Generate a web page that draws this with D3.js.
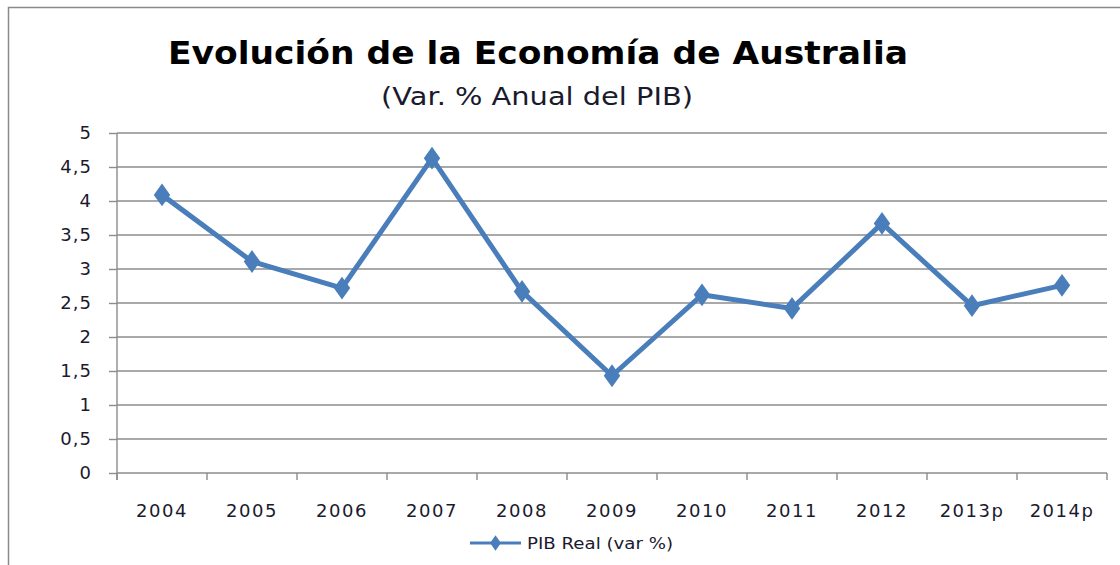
<!DOCTYPE html>
<html>
<head>
<meta charset="utf-8">
<script src="https://cdn.jsdelivr.net/npm/d3@7"></script>
<style>
  body { margin: 0; background: #fff; }
  svg { display: block; }
  text { font-family: "DejaVu Sans", sans-serif; fill: #1a1a2e; }
</style>
</head>
<body>
<div id="chart"></div>
<script>
// data
var years = ["2004", "2005", "2006", "2007", "2008", "2009", "2010", "2011", "2012", "2013p", "2014p"];
var pibReal = [4.09, 3.11, 2.72, 4.63, 2.67, 1.43, 2.62, 2.42, 3.67, 2.46, 2.76];
var yTicks = [0, 0.5, 1, 1.5, 2, 2.5, 3, 3.5, 4, 4.5, 5];
var seriesName = "PIB Real (var %)";
var titleText = "Evolución de la Economía de Australia";
var subtitleText = "(Var. % Anual del PIB)";

var w = 1120, h = 565;
var margin = {left: 117, top: 133, right: 13, bottom: 92};
var pw = w - margin.left - margin.right;
var ph = h - margin.top - margin.bottom;
var blue = "#4a7ebb";
var grid = "#8c8c8c";

var svg = d3.select("#chart").append("svg").attr("width", w).attr("height", h);

// outer chart border (cut off at right / bottom)
svg.append("path")
    .attr("d", "M8.5," + h + "V7.5H" + w)
    .attr("fill", "none").attr("stroke", "#8a8a8a").attr("stroke-width", 1.5);

svg.append("text").attr("x", 538).attr("y", 64)
    .attr("text-anchor", "middle").style("font-weight", "bold").style("font-size", "32px")
    .attr("textLength", 740).attr("lengthAdjust", "spacingAndGlyphs")
    .style("fill", "#000")
    .text(titleText);
svg.append("text").attr("x", 537).attr("y", 105)
    .attr("text-anchor", "middle").style("font-size", "25px")
    .attr("textLength", 312).attr("lengthAdjust", "spacingAndGlyphs")
    .text(subtitleText);

var g = svg.append("g").attr("transform", "translate(" + margin.left + "," + margin.top + ")");

var xScale = d3.scaleBand().domain(years).range([0, pw]);
var yScale = d3.scaleLinear().domain([0, 5]).range([ph, 0]);

// gridlines
g.append("g").selectAll("line").data(yTicks.filter(function(d){ return d > 0; }))
    .enter().append("line")
    .attr("x1", 0).attr("x2", pw)
    .attr("y1", function(d){ return yScale(d); }).attr("y2", function(d){ return yScale(d); })
    .attr("stroke", grid).attr("stroke-width", 1.4);

// y axis
var yAxis = d3.axisLeft(yScale).tickValues(yTicks).tickSize(8).tickPadding(17)
    .tickFormat(function(d){ return String(d).replace(".", ","); });
var yg = g.append("g").call(yAxis);
yg.select(".domain").attr("d", "M0,0V" + (ph + 7)).attr("stroke", grid).attr("stroke-width", 1.4);
yg.selectAll(".tick line").attr("stroke", grid).attr("stroke-width", 1.4);
yg.selectAll(".tick text").style("font-size", "18px").style("letter-spacing", "1px")
    .style("font-family", "DejaVu Sans").attr("fill", "#1a1a2e");

// x axis: ticks at category edges
var xg = g.append("g").attr("transform", "translate(0," + ph + ")");
xg.append("line").attr("x1", 0).attr("x2", pw).attr("stroke", grid).attr("stroke-width", 1.4);
var edges = years.map(function(d){ return xScale(d); }).concat([pw]);
xg.selectAll(".edge").data(edges).enter().append("line").attr("class", "edge")
    .attr("x1", function(d){ return d; }).attr("x2", function(d){ return d; })
    .attr("y1", 0).attr("y2", 7).attr("stroke", grid).attr("stroke-width", 1.4);
xg.selectAll(".lbl").data(years).enter().append("text").attr("class", "lbl")
    .attr("x", function(d){ return xScale(d) + xScale.bandwidth() / 2; })
    .attr("y", 44).attr("text-anchor", "middle")
    .style("font-size", "18px").style("letter-spacing", "1.5px")
    .text(function(d){ return d; });

// series line + diamonds
var line = d3.line()
    .x(function(d, i){ return xScale(years[i]) + xScale.bandwidth() / 2; })
    .y(function(d){ return yScale(d); });
g.append("path").datum(pibReal).attr("d", line)
    .attr("fill", "none").attr("stroke", blue).attr("stroke-width", 5).attr("stroke-linejoin", "round");

var diamond = d3.symbol().type(d3.symbolDiamond).size(150);
g.selectAll(".pt").data(pibReal).enter().append("path").attr("class", "pt")
    .attr("d", diamond)
    .attr("transform", function(d, i){ return "translate(" + (xScale(years[i]) + xScale.bandwidth() / 2) + "," + yScale(d) + ") scale(1.25,1)"; })
    .attr("fill", blue);

// legend
var lg = svg.append("g").attr("transform", "translate(470,543)");
lg.append("line").attr("x1", 0).attr("x2", 51).attr("stroke", blue).attr("stroke-width", 3);
lg.append("path").attr("d", d3.symbol().type(d3.symbolDiamond).size(70)).attr("transform", "translate(25.5,0) scale(1.2,1)").attr("fill", blue);
lg.append("text").attr("x", 57).attr("y", 6).style("font-size", "16px")
    .attr("textLength", 146).attr("lengthAdjust", "spacingAndGlyphs")
    .text(seriesName);
</script>
</body>
</html>
